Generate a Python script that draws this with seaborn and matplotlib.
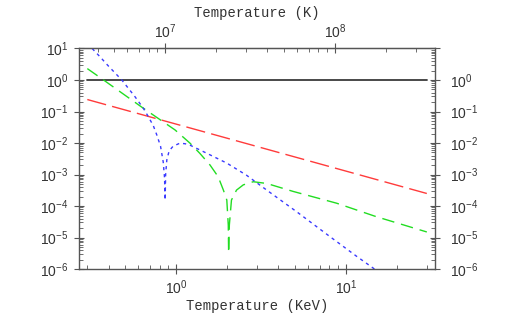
import numpy as np
import pandas as pd
import matplotlib
matplotlib.use("Agg")
import matplotlib.pyplot as plt
import matplotlib.ticker as mticker
import seaborn as sns

# ---- data (x in KeV) ----
black_T = [0.3, 30.0]
black_v = [1.0, 1.0]

red_T = [0.3, 30.0]
red_v = [0.24, 2.5e-4]

green_T = [0.3, 0.374, 0.625, 0.986, 1.21, 1.38, 1.585, 1.77, 1.90, 1.99, 2.03,
           2.04, 2.06, 2.12, 2.27, 2.49, 2.85, 3.42, 4.9, 8.82, 15.1, 30.0]
green_v = [2.3, 1.0, 0.14, 0.026, 0.0098, 4.7e-3, 2.0e-3, 8.5e-4, 3.2e-4, 1.55e-4, 2.5e-5,
           3.2e-6, 2.5e-5, 1.55e-4, 3.2e-4, 4.7e-4, 5.9e-4, 5.2e-4, 2.9e-4, 1.23e-4, 4.6e-5, 1.5e-5]

blue_T = [0.3, 0.357, 0.40, 0.479, 0.574, 0.642, 0.687, 0.735, 0.77, 0.81, 0.84, 0.855,
          0.862, 0.868, 0.882, 0.91, 0.96, 1.05, 1.13, 1.21, 1.52, 1.99, 2.6, 3.42,
          5.13, 8.06, 11.5, 14.5, 16.0]
blue_v = [14.5, 5.4, 2.75, 1.0, 0.29, 0.126, 0.068, 0.035, 0.018, 7.9e-3, 2.5e-3, 7.9e-4,
          1.55e-4, 1.0e-3, 2.9e-3, 5.6e-3, 7.9e-3, 9.8e-3, 9.5e-3, 8.5e-3, 4.7e-3, 2.3e-3, 9.5e-4, 3.2e-4,
          6.6e-5, 1.07e-5, 2.6e-6, 1.07e-6, 7e-7]

right_ticks = [1e-6, 1e-5, 1e-4, 1e-3, 1e-2, 1e-1, 1e0]   # no 10^1 on the right side
top_ticks = [1e7, 1e8]                                     # Kelvin

KEV_TO_K = 1.1605e7

# ---- long table for seaborn ----
frames = []
for name, T, v in [("black", black_T, black_v), ("red", red_T, red_v),
                   ("green", green_T, green_v), ("blue", blue_T, blue_v)]:
    frames.append(pd.DataFrame({"T": T, "v": v, "series": name}))
df = pd.concat(frames, ignore_index=True)

palette = {"black": "#3a3a3a", "red": "#ff3b3b", "green": "#22dd22", "blue": "#3a3aff"}
dashes = {"black": "", "red": (14, 4.5), "green": (9, 5), "blue": (2.3, 2.8)}
widths = {"black": 1.3, "red": 1.0, "green": 1.0, "blue": 1.0}

sns.set_style("ticks")
plt.rcParams["font.family"] = ["Liberation Sans", "DejaVu Sans"]

fig = plt.figure(figsize=(5.14, 3.18), dpi=100)
ax = fig.add_axes([0.1537, 0.154, 0.6925, 0.6935])

for name in ["black", "red", "green", "blue"]:
    sub = df[df["series"] == name]
    sns.lineplot(data=sub, x="T", y="v", ax=ax, color=palette[name],
                 linewidth=widths[name], estimator=None, sort=False, legend=False)
    line = ax.lines[-1]
    if dashes[name]:
        line.set_dashes(dashes[name])

ax.set_xscale("log")
ax.set_yscale("log")
ax.set_xlim(0.268, 33.5)
ax.set_ylim(1e-6, 1e1)

grey = "#555555"
txt = "#333333"
for sp in ax.spines.values():
    sp.set_color(grey)
    sp.set_linewidth(1.0)

ax.yaxis.set_major_locator(mticker.LogLocator(base=10, numticks=20))
ax.yaxis.set_minor_locator(mticker.LogLocator(base=10, subs=np.arange(2, 10), numticks=20))
ax.xaxis.set_minor_formatter(mticker.NullFormatter())
ax.yaxis.set_minor_formatter(mticker.NullFormatter())

ax.tick_params(which="major", direction="inout", length=7, width=0.8, color=grey,
               labelsize=10, labelcolor=txt, left=True, right=True, labelright=False,
               bottom=True, top=False)
ax.tick_params(which="minor", direction="in", length=3, width=0.6, color=grey,
               left=True, right=True, bottom=True, top=False)
ax.tick_params(axis="y", pad=4)
ax.tick_params(axis="x", pad=3)

ax.set_xlabel("Temperature (KeV)", family="Liberation Mono", fontsize=10, color=txt, labelpad=2)
ax.set_ylabel("")

# right labels only (ticks drawn by main axes)
secy = ax.secondary_yaxis("right")
secy.yaxis.set_major_locator(mticker.FixedLocator(right_ticks))
secy.yaxis.set_minor_locator(mticker.NullLocator())
secy.tick_params(which="major", length=3.5, width=0, pad=7, labelsize=10, labelcolor=txt)
secy.spines["right"].set_visible(False)

# top axis in Kelvin
sec = ax.secondary_xaxis("top", functions=(lambda x: x * KEV_TO_K, lambda k: k / KEV_TO_K))
sec.set_xscale("log")
sec.xaxis.set_major_locator(mticker.FixedLocator(top_ticks))
sec.xaxis.set_major_formatter(mticker.LogFormatterSciNotation())
sec.xaxis.set_minor_formatter(mticker.NullFormatter())
sec.tick_params(which="major", direction="inout", length=7, width=0.8, color=grey,
                labelsize=10, labelcolor=txt, pad=2)
sec.tick_params(which="minor", direction="in", length=3, width=0.6, color=grey)
sec.spines["top"].set_color(grey)
sec.set_xlabel("Temperature (K)", family="Liberation Mono", fontsize=10, color=txt, labelpad=4)

fig.savefig("out.png", dpi=100)
